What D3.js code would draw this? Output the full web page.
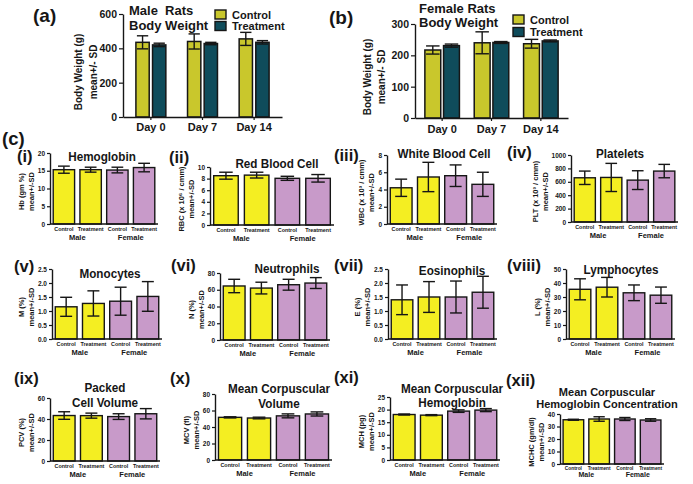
<!DOCTYPE html>
<html><head><meta charset="utf-8">
<script src="https://cdn.jsdelivr.net/npm/d3@7"></script>
<style>
body{margin:0;background:#fff}
svg{display:block}
text{font-family:"Liberation Sans",Arial,sans-serif;font-weight:bold;fill:#161616}
</style>
</head><body>
<svg id="chart" width="693" height="484"></svg>
<script>
// ---------------- DATA ----------------
const days = ["Day 0", "Day 7", "Day 14"];
const series = ["Control", "Treatment"];
const maleCtrl = [435, 440, 455], maleCtrlSD = [38, 44, 38];
const maleTrt = [420, 428, 435], maleTrtSD = [10, 7, 10];
const femCtrl = [217, 240, 237], femCtrlSD = [13, 35, 14];
const femTrt = [231, 241, 246], femTrtSD = [5, 3, 3];
const maleTicks = [0, 200, 400, 600];
const femTicks = [0, 100, 200, 300];

const categories = ["Control", "Treatment", "Control", "Treatment"];
const sexes = ["Male", "Female"];

const hbMean = [15.3, 15.3, 15.2, 15.9], hbSD = [1.0, 0.7, 0.8, 1.2], hbTicks = [0, 5, 10, 15, 20];
const rbcMean = [8.5, 8.6, 8.05, 8.05], rbcSD = [0.6, 0.5, 0.35, 0.65], rbcTicks = [0, 2, 4, 6, 8, 10];
const wbcMean = [4.2, 5.45, 5.6, 4.6], wbcSD = [1.0, 1.7, 1.25, 1.4], wbcTicks = [0, 2, 4, 6, 8];
const pltMean = [660, 665, 625, 760], pltSD = [100, 210, 140, 100], pltTicks = [0, 200, 400, 600, 800, 1000];
const monoMean = [1.15, 1.27, 1.35, 1.52], monoSD = [0.34, 0.45, 0.5, 0.53], monoTicks = [0, 0.5, 1, 1.5, 2, 2.5];
const neutMean = [64.5, 62, 66, 68], neutSD = [8, 7, 6.5, 6.5], neutTicks = [0, 20, 40, 60, 80];
const eosMean = [1.4, 1.5, 1.5, 1.67], eosSD = [0.53, 0.55, 0.57, 0.57], eosTicks = [0, 0.5, 1, 1.5, 2, 2.5];
const lymMean = [35.5, 37, 33, 31.3], lymSD = [7.5, 7, 5.6, 5.8], lymTicks = [0, 10, 20, 30, 40, 50];
const pcvMean = [43.3, 43.2, 42.3, 45], pcvSD = [3.6, 2.4, 2.7, 4.9], pcvTicks = [0, 20, 40, 60];
const mcvMean = [51.7, 50.9, 53.5, 55.8], mcvSD = [0.7, 1.0, 2.4, 2.5], mcvTicks = [0, 20, 40, 60, 80];
const mchMean = [18.05, 17.8, 19.4, 19.8], mchSD = [0.2, 0.2, 0.5, 0.6], mchTicks = [0, 5, 10, 15, 20, 25];
const mchcMean = [35.4, 36, 36, 35.2], mchcSD = [0.4, 1.8, 1.2, 1.0], mchcTicks = [0, 10, 20, 30, 40];

// ---------------- STYLE ----------------
const C_OLIVE = "#c9c72c", C_TEAL = "#0f4c5b";
const C_YELLOW = "#f4ee22", C_PURPLE = "#c89ac9";
const INK = "#161616";

const svg = d3.select("#chart");

function txt(x, y, s, size, opts = {}) {
  const t = svg.append("text")
    .attr("transform", `translate(${x},${y})` + (opts.rot ? ` rotate(${opts.rot})` : "") +
      (opts.sx ? ` scale(${opts.sx},1)` : ""))
    .attr("font-size", size)
    .attr("text-anchor", opts.anchor || "start")
    .text(s);
  return t;
}

function errBars(g, xs, ys, means, sds, capW) {
  means.forEach((m, i) => {
    const cx = xs(i);
    const yT = ys(m + sds[i]), yB = ys(m - sds[i]);
    g.append("line").attr("x1", cx).attr("x2", cx).attr("y1", yT).attr("y2", yB)
      .attr("stroke", INK).attr("stroke-width", 1.4);
    [yT, yB].forEach(yy => g.append("line").attr("x1", cx - capW / 2).attr("x2", cx + capW / 2)
      .attr("y1", yy).attr("y2", yy).attr("stroke", INK).attr("stroke-width", 1.4));
  });
}

function styleAxis(ax, fs) {
  ax.select(".domain").attr("stroke", INK).attr("stroke-width", 1.4);
  ax.selectAll(".tick line").attr("stroke", INK).attr("stroke-width", 1.2);
  ax.selectAll(".tick text").attr("font-size", fs).attr("font-family", null).attr("fill", INK);
  ax.attr("font-family", null);
}

// ---------------- BODY WEIGHT PANELS ----------------
function bigPanel(p) {
  const g = svg.append("g");
  const x = d3.scaleBand().domain(days).range([p.ax, p.ex]).paddingInner(p.pi).paddingOuter(p.po);
  const xs = d3.scaleBand().domain(series).range([0, x.bandwidth()]).paddingInner(p.spi);
  const y = d3.scaleLinear().domain([0, d3.max(p.ticks)]).range([p.zero, p.top]);
  const sets = [[p.ctrl, p.ctrlSD, C_OLIVE], [p.trt, p.trtSD, C_TEAL]];
  sets.forEach((s, k) => {
    const key = series[k];
    g.selectAll(null).data(s[0]).enter().append("rect")
      .attr("x", (d, i) => x(days[i]) + xs(key))
      .attr("y", d => y(d))
      .attr("width", xs.bandwidth())
      .attr("height", d => p.zero - y(d))
      .attr("fill", s[2]).attr("stroke", INK).attr("stroke-width", 1.5);
    errBars(g, i => x(days[i]) + xs(key) + xs.bandwidth() / 2, y, s[0], s[1], xs.bandwidth() * 0.85);
  });
  const ay = g.append("g").attr("transform", `translate(${p.ax},0)`)
    .call(d3.axisLeft(y).tickValues(p.ticks).tickSize(4).tickSizeOuter(0).tickPadding(2));
  styleAxis(ay, 10.5);
  const axx = g.append("g").attr("transform", `translate(0,${p.zero})`)
    .call(d3.axisBottom(x).tickSize(3).tickSizeOuter(0).tickFormat(""));
  axx.select(".domain").attr("stroke", INK).attr("stroke-width", 1.4);
  axx.selectAll(".tick line").attr("stroke", INK).attr("stroke-width", 1.2);
  days.forEach(d => txt(x(d) + x.bandwidth() / 2, p.dayY, d, 11, { anchor: "middle" }));
  // y label
  const cy = p.labelCY;
  txt(p.yl1, cy, "Body Weight (g)", 11.5, { rot: -90, anchor: "middle", sx: 0.87 });
  txt(p.yl2, cy, "mean+/- SD", 11.5, { rot: -90, anchor: "middle", sx: 0.87 });
  // title
  txt(p.tx, p.ty1, p.title[0], 13);
  txt(p.tx, p.ty2, p.title[1], 13);
  // legend
  series.forEach((s, k) => {
    svg.append("rect").attr("x", p.lx).attr("y", p.ly + k * p.lstep).attr("width", 11).attr("height", 9)
      .attr("fill", k ? C_TEAL : C_OLIVE).attr("stroke", INK).attr("stroke-width", 1.4);
    txt(p.lx + 17, p.ly + k * p.lstep + 8.5, s, 11);
  });
  txt(p.pl[0], p.pl[1], p.plabel, 19);
}

bigPanel({ plabel: "(a)", pl: [33, 22], ax: 123, ex: 282, pi: 0.42, po: 0.25, spi: 0.2, zero: 117, top: 14,
  ticks: maleTicks, ctrl: maleCtrl, ctrlSD: maleCtrlSD, trt: maleTrt, trtSD: maleTrtSD,
  dayY: 131, yl1: 82, yl2: 97, labelCY: 72, title: ["Male\u00a0 Rats", "Body Weight"], tx: 129, ty1: 15, ty2: 30,
  lx: 215, ly: 10, lstep: 11.5 });
bigPanel({ plabel: "(b)", pl: [329, 24], ax: 415, ex: 568, pi: 0.3, po: 0.2, spi: 0.15, zero: 118, top: 24,
  ticks: femTicks, ctrl: femCtrl, ctrlSD: femCtrlSD, trt: femTrt, trtSD: femTrtSD,
  dayY: 133, yl1: 371, yl2: 385, labelCY: 77, title: ["Female Rats", "Body Weight"], tx: 419, ty1: 13, ty2: 27,
  lx: 513, ly: 15, lstep: 12.5 });

txt(2, 145, "(c)", 18.5);

// ---------------- HAEMATOLOGY PANELS ----------------
function smallPanel(p) {
  const g = svg.append("g");
  const x = d3.scaleBand().domain(d3.range(categories.length)).range([p.ax, p.ex]).paddingInner(0.2).paddingOuter(0.12);
  const y = d3.scaleLinear().domain([0, d3.max(p.ticks)]).range([p.zero, p.top]);
  g.selectAll(null).data(p.mean).enter().append("rect")
    .attr("x", (d, i) => x(i)).attr("y", d => y(d))
    .attr("width", x.bandwidth()).attr("height", d => p.zero - y(d))
    .attr("fill", (d, i) => i < 2 ? C_YELLOW : C_PURPLE)
    .attr("stroke", INK).attr("stroke-width", 1.4);
  errBars(g, i => x(i) + x.bandwidth() / 2, y, p.mean, p.sd, x.bandwidth() * 0.55);
  const ay = g.append("g").attr("transform", `translate(${p.ax},0)`)
    .call(d3.axisLeft(y).tickValues(p.ticks).tickSize(3).tickSizeOuter(0).tickPadding(2)
      .tickFormat(p.fmt || d3.format("d")));
  styleAxis(ay, 6.5);
  g.append("line").attr("x1", p.ax).attr("x2", p.ex).attr("y1", p.zero).attr("y2", p.zero)
    .attr("stroke", INK).attr("stroke-width", 1.4);
  const maxW = d3.max(ay.selectAll(".tick text").nodes(), n => n.getComputedTextLength());
  const cfs = p.cfs || 5.4;
  categories.forEach((c, i) => txt(x(i) + x.bandwidth() / 2, p.zero + (p.cdy || 7), c, cfs, { anchor: "middle" }));
  sexes.forEach((s, k) => {
    const cx = (x(2 * k) + x(2 * k + 1) + x.bandwidth()) / 2;
    txt(cx, p.zero + (p.sdy || 16), s, p.sfs || 7.5, { anchor: "middle" });
  });
  // y label
  const b2 = p.ax - 5 - maxW - 4, b1 = b2 - 10;
  const cy = (p.zero + p.top) / 2 + 3;
  txt(b1, cy, p.ylab[0], 7.5, { rot: -90, anchor: "middle" });
  txt(b2, cy, p.ylab[1], 7.5, { rot: -90, anchor: "middle" });
  // title
  p.title.forEach((t, k) => txt(p.tx, p.ty[k], t, p.tfs || 13, { anchor: "middle", sx: p.tsx || 0.9 }));
  txt(p.rl[0], p.rl[1], p.roman, 16.5);
}

const f1 = d3.format(".1f");
const panels = [
  { roman: "(i)", rl: [17, 162], ax: 50, ex: 158, top: 153, zero: 224, ticks: hbTicks, mean: hbMean, sd: hbSD,
    ylab: ["Hb (gm %)", "mean+/-SD"], title: ["Hemoglobin"], tx: 102, ty: [161] },
  { roman: "(ii)", rl: [169, 163], ax: 210, ex: 334, top: 167, zero: 225, ticks: rbcTicks, mean: rbcMean, sd: rbcSD,
    ylab: ["RBC (x 10\u2076 / cmm)", "mean+/-SD"], title: ["Red Blood Cell"], tx: 277, ty: [168] },
  { roman: "(iii)", rl: [334, 161], ax: 387, ex: 497, top: 155, zero: 224, ticks: wbcTicks, mean: wbcMean, sd: wbcSD,
    ylab: ["WBC (x 10\u00b3 / cmm)", "mean+/-SD"], title: ["White Blood Cell"], tx: 444, ty: [158] },
  { roman: "(iv)", rl: [507, 158], ax: 571, ex: 678, top: 155, zero: 222, ticks: pltTicks, mean: pltMean, sd: pltSD,
    ylab: ["PLT (x 10\u00b3 / cmm)", "mean+/-SD"], title: ["Platelets"], tx: 620, ty: [158] },
  { roman: "(v)", rl: [14, 272], ax: 52, ex: 162, top: 269, zero: 339, ticks: monoTicks, mean: monoMean, sd: monoSD, fmt: f1,
    ylab: ["M (%)", "mean+/-SD"], title: ["Monocytes"], tx: 110, ty: [278] },
  { roman: "(vi)", rl: [171, 271], ax: 220, ex: 330, top: 273, zero: 340, ticks: neutTicks, mean: neutMean, sd: neutSD,
    ylab: ["N (%)", "mean+/-SD"], title: ["Neutrophils"], tx: 287, ty: [273] },
  { roman: "(vii)", rl: [334, 271], ax: 388, ex: 497, top: 269, zero: 339, ticks: eosTicks, mean: eosMean, sd: eosSD, fmt: f1,
    ylab: ["E (%)", "mean+/-SD"], title: ["Eosinophils"], tx: 452, ty: [275] },
  { roman: "(viii)", rl: [507, 271], ax: 566, ex: 675, top: 269, zero: 339, ticks: lymTicks, mean: lymMean, sd: lymSD,
    ylab: ["L (%)", "mean+/-SD"], title: ["Lymphocytes"], tx: 621, ty: [274] },
  { roman: "(ix)", rl: [14, 384], ax: 50, ex: 160, top: 398, zero: 461, ticks: pcvTicks, mean: pcvMean, sd: pcvSD,
    ylab: ["PCV (%)", "mean+/-SD"], title: ["Packed", "Cell Volume"], tx: 105, ty: [392, 407] },
  { roman: "(x)", rl: [170, 384], ax: 215, ex: 332, top: 394, zero: 460, ticks: mcvTicks, mean: mcvMean, sd: mcvSD,
    ylab: ["MCV (fl)", "mean+/-SD"], title: ["Mean Corpuscular", "Volume"], tx: 279, ty: [393, 408] },
  { roman: "(xi)", rl: [334, 383], ax: 390, ex: 500, top: 397, zero: 460, ticks: mchTicks, mean: mchMean, sd: mchSD,
    ylab: ["MCH (pg)", "mean+/-SD"], title: ["Mean Corpuscular", "Hemoglobin"], tx: 452, ty: [393, 407] },
  { roman: "(xii)", rl: [506, 386], ax: 560, ex: 664, top: 414, zero: 464, ticks: mchcTicks, mean: mchcMean, sd: mchcSD,
    ylab: ["MCHC (gm/dl)", "mean+/-SD"], title: ["Mean Corpuscular", "Hemoglobin Concentration"], tx: 607, ty: [396, 407.5],
    tfs: 11.5, tsx: 0.96, cfs: 4.8, cdy: 6, sdy: 12.5, sfs: 7 }
];
panels.forEach(smallPanel);
</script>
</body></html>
